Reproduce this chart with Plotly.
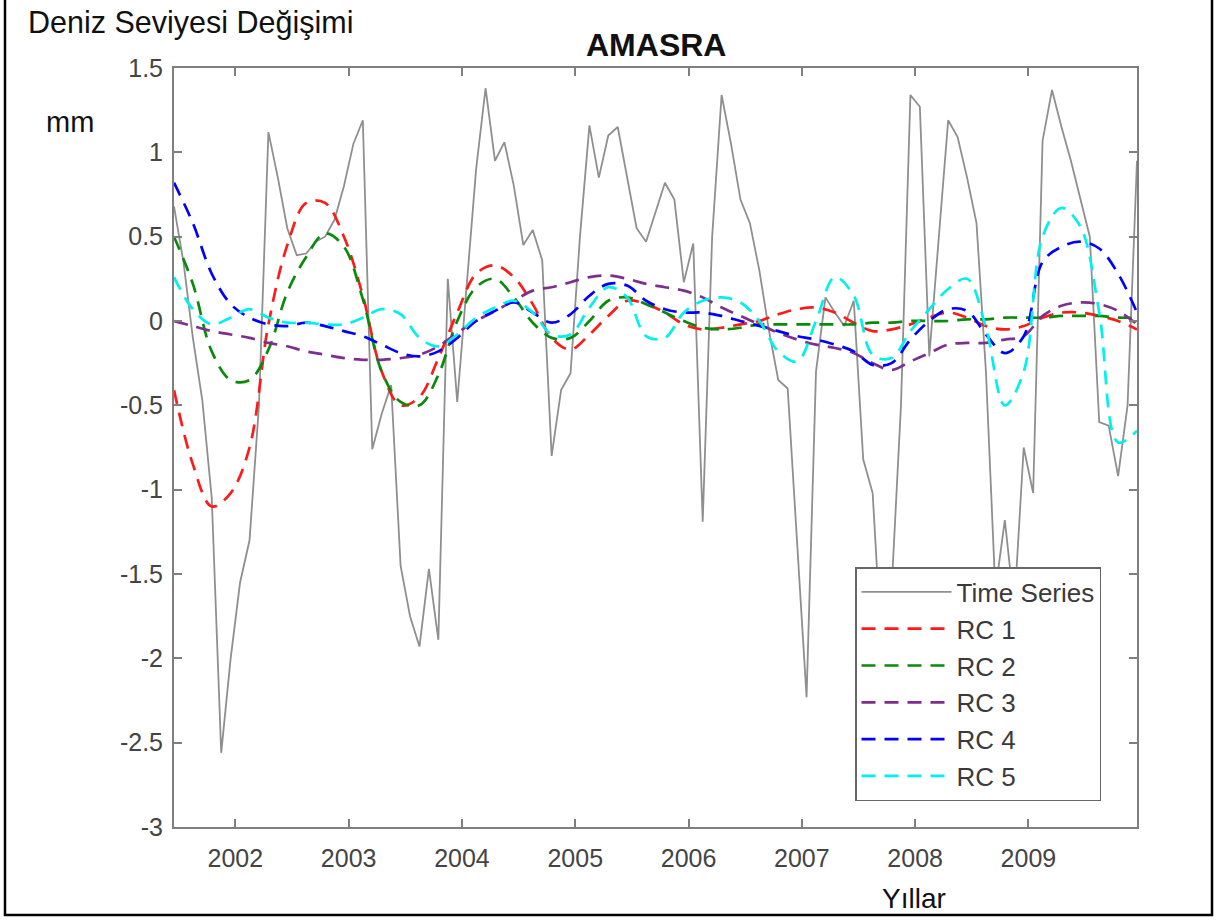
import plotly.graph_objects as go

# ---------------- data ----------------
# monthly series, June 2001 .. December 2009 (mid-month, decimal years)
start_year = 2001
start_month = 6
n_months = 103
years = [start_year + (start_month - 1 + 0.5 + i) / 12 for i in range(n_months)]

time_series = [
    0.68, 0.35, -0.10, -0.47, -1.05, -2.56, -2.00, -1.55, -1.30, -0.50,
    1.12, 0.85, 0.55, 0.39, 0.40, 0.47, 0.50, 0.60, 0.80, 1.05,
    1.19, -0.76, -0.55, -0.38, -1.45, -1.75, -1.93, -1.47, -1.89, 0.25,
    -0.48, 0.20, 0.90, 1.38, 0.95, 1.06, 0.80, 0.45, 0.54, 0.36,
    -0.80, -0.41, -0.31, 0.50, 1.16, 0.85, 1.10, 1.15, 0.85, 0.55,
    0.47, 0.65, 0.82, 0.72, 0.23, 0.46, -1.19, 0.50, 1.34, 1.05,
    0.72, 0.58, 0.30, -0.05, -0.35, -0.40, -1.30, -2.23, -0.30, 0.14,
    0.05, -0.03, 0.12, -0.82, -1.02, -2.00, -1.60, -0.50, 1.34, 1.27,
    -0.21, 0.50, 1.19, 1.09, 0.85, 0.58, -0.30, -1.60, -1.18, -1.70,
    -0.75, -1.02, 1.07, 1.37, 1.15, 0.95, 0.72, 0.50, -0.60, -0.62,
    -0.92, -0.50, 0.95,
]

# reconstructed components, read every second month
rc_years = years[::2]

rc1 = [
    -0.41, -0.85, -1.10, -1.02, -0.75, -0.02, 0.45, 0.70, 0.70, 0.50,
    0.15, -0.30, -0.50, -0.45, -0.22, 0.05, 0.28, 0.33, 0.26, 0.10,
    -0.10, -0.17, -0.08, 0.03, 0.12, 0.10, 0.05, -0.02, -0.05, -0.04,
    -0.02, 0.00, 0.04, 0.07, 0.08, 0.05, -0.01, -0.06, -0.05, -0.02,
    0.02, 0.05, 0.02, -0.03, -0.05, -0.03, 0.02, 0.05, 0.05, 0.03,
    0.00, -0.05,
]
rc2 = [
    0.50, 0.22, -0.18, -0.35, -0.35, -0.17, 0.17, 0.38, 0.52, 0.44,
    0.13, -0.30, -0.48, -0.50, -0.32, 0.00, 0.20, 0.25, 0.14, -0.01,
    -0.10, -0.10, 0.00, 0.12, 0.14, 0.10, 0.05, 0.00, -0.04, -0.05,
    -0.04, -0.02, -0.02, -0.02, -0.02, -0.02, -0.02, -0.01, -0.01, 0.00,
    0.00, 0.00, 0.01, 0.01, 0.02, 0.02, 0.02, 0.03, 0.03, 0.03,
    0.02, 0.02,
]
rc3 = [
    0.00, -0.03, -0.06, -0.08, -0.10, -0.13, -0.15, -0.18, -0.20, -0.22,
    -0.23, -0.23, -0.22, -0.20, -0.15, -0.07, 0.00, 0.06, 0.12, 0.18,
    0.20, 0.23, 0.26, 0.27, 0.25, 0.22, 0.20, 0.18, 0.14, 0.08,
    0.03, -0.02, -0.07, -0.11, -0.14, -0.16, -0.19, -0.25, -0.29, -0.24,
    -0.19, -0.14, -0.13, -0.13, -0.11, -0.09, 0.03, 0.09, 0.11, 0.10,
    0.06, -0.02,
]
rc4 = [
    0.82, 0.58, 0.28, 0.10, 0.02, -0.02, -0.03, -0.01, -0.03, -0.06,
    -0.09, -0.14, -0.19, -0.21, -0.18, -0.10, 0.00, 0.06, 0.11, 0.05,
    -0.01, 0.04, 0.15, 0.22, 0.21, 0.12, 0.07, 0.05, 0.05, 0.03,
    0.00, -0.03, -0.06, -0.09, -0.11, -0.14, -0.18, -0.26, -0.25, -0.11,
    0.00, 0.07, 0.06, -0.08, -0.19, -0.09, 0.35, 0.44, 0.47, 0.43,
    0.28, 0.05,
]
rc5 = [
    0.26, 0.07, -0.02, 0.02, 0.07, 0.02, -0.01, -0.01, -0.02, -0.02,
    0.02, 0.07, 0.04, -0.10, -0.15, -0.08, 0.02, 0.08, 0.12, 0.05,
    -0.08, -0.08, 0.08, 0.20, 0.14, -0.09, -0.10, 0.05, 0.12, 0.14,
    0.11, 0.00, -0.18, -0.24, 0.00, 0.26, 0.15, -0.20, -0.22, -0.06,
    0.07, 0.19, 0.25, -0.04, -0.50, -0.30, 0.50, 0.67, 0.56, 0.05,
    -0.72, -0.65,
]

year_ticks = [2002, 2003, 2004, 2005, 2006, 2007, 2008, 2009]
y_ticks = [-3, -2.5, -2, -1.5, -1, -0.5, 0, 0.5, 1, 1.5]
y_tick_text = ["-3", "-2.5", "-2", "-1.5", "-1", "-0.5", "0", "0.5", "1", "1.5"]

rc_names = ["RC 1", "RC 2", "RC 3", "RC 4", "RC 5"]
rc_values = [rc1, rc2, rc3, rc4, rc5]
rc_colors = ["#ff1a1a", "#0a8a0a", "#7e2f8e", "#0000ff", "#00f0f0"]

# ---------------- figure ----------------
FONT = "Liberation Sans, Arial, sans-serif"
fig = go.Figure()

fig.add_trace(go.Scatter(
    x=years, y=time_series, mode="lines", name="Time Series",
    line=dict(color="#8f8f8f", width=1.8),
))
for name, vals, col in zip(rc_names, rc_values, rc_colors):
    fig.add_trace(go.Scatter(
        x=rc_years, y=vals, mode="lines", name=name,
        line=dict(color=col, width=2.7, dash="14px,9px", shape="spline", smoothing=1.0),
    ))

L, R, T, B = 174, 79, 68, 93
W, H = 1216, 920
pw, ph = W - L - R, H - T - B


def px(x):
    return (x - L) / pw


def py(y):
    return (H - B - y) / ph


axis_common = dict(
    showgrid=False, zeroline=False, showline=True, linecolor="#7f7f7f", linewidth=2,
    mirror="ticks", ticks="inside", ticklen=8, tickwidth=1.5, tickcolor="#7f7f7f",
    tickfont=dict(family=FONT, size=25, color="#444444"),
)

fig.update_layout(
    width=W, height=H,
    margin=dict(l=L, r=R, t=T, b=B, pad=0),
    paper_bgcolor="white", plot_bgcolor="white",
    showlegend=True,
    xaxis=dict(range=[years[0], years[-1]], tickmode="array", tickvals=year_ticks,
               ticktext=[str(y) for y in year_ticks], ticklabelstandoff=8, **axis_common),
    yaxis=dict(range=[-3, 1.5], tickmode="array", tickvals=y_ticks,
               ticktext=y_tick_text, ticklabelstandoff=4, **axis_common),
    legend=dict(
        x=px(855), y=py(567), xanchor="left", yanchor="top",
        bgcolor="white", bordercolor="#666666", borderwidth=1.5,
        font=dict(family=FONT, size=26, color="#3a3a3a"),
        itemwidth=90, tracegroupgap=0,
    ),
    annotations=[
        dict(text="<b>AMASRA</b>", x=0.5, y=py(45), xref="paper", yref="paper",
             showarrow=False, xanchor="center", yanchor="middle",
             font=dict(family=FONT, size=32, color="#111111")),
        dict(text="Deniz Seviyesi Değişimi", x=px(26), y=py(22), xref="paper", yref="paper",
             showarrow=False, xanchor="left", yanchor="middle",
             font=dict(family=FONT, size=30.5, color="#111111")),
        dict(text="mm", x=px(44), y=py(122), xref="paper", yref="paper",
             showarrow=False, xanchor="left", yanchor="middle",
             font=dict(family=FONT, size=29, color="#111111")),
        dict(text="Yıllar", x=px(914), y=py(898), xref="paper", yref="paper",
             showarrow=False, xanchor="center", yanchor="middle",
             font=dict(family=FONT, size=28, color="#111111")),
    ],
    shapes=[
        dict(type="rect", xref="paper", yref="paper",
             x0=px(5), x1=px(1212), y0=py(915), y1=py(-5),
             line=dict(color="black", width=2.5), fillcolor="rgba(0,0,0,0)", layer="above"),
    ],
)

fig.write_html("out.html")
